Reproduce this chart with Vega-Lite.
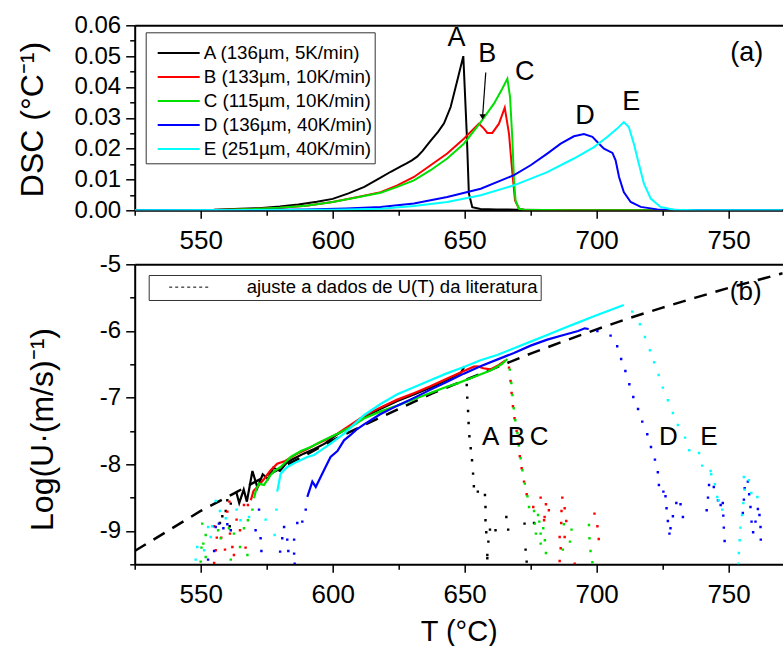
{
"$schema": "https://vega.github.io/schema/vega-lite/v6.json",
"padding": {"left": 15.7, "top": 13.3, "right": 0, "bottom": 0},
"bounds": "flush",
"spacing": 54,
"config": {
  "font": "Liberation Sans",
  "view": {"stroke": null},
  "axis": {"domainColor": "black", "domainWidth": 2, "tickColor": "black", "tickWidth": 1.5, "labelColor": "black", "titleColor": "black", "grid": false, "titleFontWeight": "normal", "labelFont": "Liberation Sans", "titleFont": "Liberation Sans", "labelOverlap": false, "labelFlush": false},
  "text": {"font": "Liberation Sans", "color": "black"}
},
"resolve": {"scale": {"color": "independent"}, "legend": {"color": "independent"}},
"datasets": {
"dsc": [
{"s":"A","T":525,"v":0},{"s":"A","T":545,"v":0.0001},{"s":"A","T":555,"v":0.0002},{"s":"A","T":565,"v":0.0005},{"s":"A","T":572,"v":0.0007},{"s":"A","T":580,"v":0.0012},{"s":"A","T":587,"v":0.0019},{"s":"A","T":594,"v":0.0028},{"s":"A","T":600,"v":0.0037},{"s":"A","T":606,"v":0.0055},{"s":"A","T":612,"v":0.0076},{"s":"A","T":618,"v":0.0105},{"s":"A","T":622,"v":0.0125},{"s":"A","T":626,"v":0.0143},{"s":"A","T":628,"v":0.0152},{"s":"A","T":630,"v":0.0162},{"s":"A","T":632,"v":0.0174},{"s":"A","T":634,"v":0.0192},{"s":"A","T":637,"v":0.0224},{"s":"A","T":640,"v":0.0255},{"s":"A","T":642.2,"v":0.0282},{"s":"A","T":644.7,"v":0.0335},{"s":"A","T":647.2,"v":0.042},{"s":"A","T":649.5,"v":0.05},{"s":"A","T":650.8,"v":0.025},{"s":"A","T":651.6,"v":0.0055},{"s":"A","T":652.9,"v":0.001},{"s":"A","T":656,"v":0.0004},{"s":"A","T":662,"v":0.0003},{"s":"A","T":670,"v":0.0002},{"s":"A","T":680,"v":0.0001},{"s":"A","T":700,"v":0},{"s":"A","T":770.5,"v":0},
{"s":"B","T":525,"v":0},{"s":"B","T":550,"v":0},{"s":"B","T":560,"v":0.0002},{"s":"B","T":570,"v":0.0004},{"s":"B","T":580,"v":0.0008},{"s":"B","T":590,"v":0.0015},{"s":"B","T":600,"v":0.0027},{"s":"B","T":610,"v":0.0044},{"s":"B","T":618.2,"v":0.0059},{"s":"B","T":624.5,"v":0.0081},{"s":"B","T":630.8,"v":0.0108},{"s":"B","T":637.1,"v":0.0146},{"s":"B","T":643.4,"v":0.0184},{"s":"B","T":649.7,"v":0.0232},{"s":"B","T":653.5,"v":0.0265},{"s":"B","T":655.4,"v":0.0281},{"s":"B","T":657.3,"v":0.0265},{"s":"B","T":658.6,"v":0.0251},{"s":"B","T":660.5,"v":0.0251},{"s":"B","T":663,"v":0.0281},{"s":"B","T":665.2,"v":0.0333},{"s":"B","T":666.8,"v":0.0249},{"s":"B","T":668.1,"v":0.0119},{"s":"B","T":669.1,"v":0.0032},{"s":"B","T":670.6,"v":0.0005},{"s":"B","T":672.5,"v":0.0002},{"s":"B","T":680,"v":0.0001},{"s":"B","T":700,"v":0},{"s":"B","T":770.5,"v":0},
{"s":"C","T":525,"v":0},{"s":"C","T":550,"v":0},{"s":"C","T":560,"v":0.0002},{"s":"C","T":570,"v":0.0004},{"s":"C","T":580,"v":0.0008},{"s":"C","T":590,"v":0.0015},{"s":"C","T":600,"v":0.0027},{"s":"C","T":610,"v":0.0043},{"s":"C","T":618.2,"v":0.0057},{"s":"C","T":624.5,"v":0.0076},{"s":"C","T":630.8,"v":0.0097},{"s":"C","T":637.1,"v":0.013},{"s":"C","T":643.4,"v":0.0168},{"s":"C","T":649.7,"v":0.0216},{"s":"C","T":656.1,"v":0.0286},{"s":"C","T":661.1,"v":0.0346},{"s":"C","T":664.3,"v":0.0395},{"s":"C","T":666.2,"v":0.0427},{"s":"C","T":667.2,"v":0.0368},{"s":"C","T":668.1,"v":0.0227},{"s":"C","T":668.7,"v":0.0097},{"s":"C","T":669.3,"v":0.0032},{"s":"C","T":670.6,"v":0.0005},{"s":"C","T":672.5,"v":0.0002},{"s":"C","T":690,"v":0},{"s":"C","T":770.5,"v":0},
{"s":"D","T":525,"v":0},{"s":"D","T":570,"v":0.0001},{"s":"D","T":590,"v":0.0003},{"s":"D","T":605,"v":0.0006},{"s":"D","T":618.2,"v":0.0011},{"s":"D","T":630.8,"v":0.0022},{"s":"D","T":643.4,"v":0.0043},{"s":"D","T":656.1,"v":0.007},{"s":"D","T":668.7,"v":0.0114},{"s":"D","T":675,"v":0.0146},{"s":"D","T":681.3,"v":0.0184},{"s":"D","T":686.4,"v":0.0216},{"s":"D","T":691.4,"v":0.024},{"s":"D","T":695.2,"v":0.0247},{"s":"D","T":698.4,"v":0.0238},{"s":"D","T":700.9,"v":0.0216},{"s":"D","T":702.8,"v":0.02},{"s":"D","T":706,"v":0.0186},{"s":"D","T":707.2,"v":0.0162},{"s":"D","T":708.5,"v":0.0108},{"s":"D","T":710.3,"v":0.0059},{"s":"D","T":712.9,"v":0.0027},{"s":"D","T":716.7,"v":0.0011},{"s":"D","T":723,"v":0.0003},{"s":"D","T":731.8,"v":0.0001},{"s":"D","T":750,"v":0},{"s":"D","T":770.5,"v":0},
{"s":"E","T":525,"v":0},{"s":"E","T":580,"v":0.0001},{"s":"E","T":600,"v":0.0002},{"s":"E","T":618.2,"v":0.0005},{"s":"E","T":630.8,"v":0.0014},{"s":"E","T":643.4,"v":0.0027},{"s":"E","T":656.1,"v":0.0049},{"s":"E","T":668.7,"v":0.0081},{"s":"E","T":681.3,"v":0.0124},{"s":"E","T":691.4,"v":0.0168},{"s":"E","T":699,"v":0.0205},{"s":"E","T":704,"v":0.0238},{"s":"E","T":707.8,"v":0.0265},{"s":"E","T":710.3,"v":0.0286},{"s":"E","T":712.2,"v":0.027},{"s":"E","T":714.1,"v":0.0216},{"s":"E","T":716,"v":0.0151},{"s":"E","T":717.9,"v":0.0087},{"s":"E","T":720.5,"v":0.0038},{"s":"E","T":724.2,"v":0.0011},{"s":"E","T":729.3,"v":0.0002},{"s":"E","T":738.2,"v":0},{"s":"E","T":770.5,"v":0}
],
"labA": [
{"t":"A","T":646.9,"v":0.0558},{"t":"B","T":658.6,"v":0.0506},{"t":"C","T":672.8,"v":0.045},{"t":"D","T":695.6,"v":0.0307},{"t":"E","T":713.1,"v":0.035},{"t":"(a)","T":756.9,"v":0.0509}
],
"arrow": [{"T":658.0,"v":0.0447,"T2":656.8,"v2":0.0303}],
"fit": [
{"T":525,"v":-9.3},{"T":537.5,"v":-9.0},{"T":550,"v":-8.7},{"T":562.5,"v":-8.44},{"T":575,"v":-8.17},{"T":587.5,"v":-7.91},{"T":600,"v":-7.64},{"T":612.5,"v":-7.4},{"T":625,"v":-7.17},{"T":637.5,"v":-6.94},{"T":650,"v":-6.74},{"T":662.5,"v":-6.54},{"T":675,"v":-6.34},{"T":687.5,"v":-6.155},{"T":700,"v":-5.976},{"T":712.5,"v":-5.805},{"T":725,"v":-5.65},{"T":737.5,"v":-5.5},{"T":750,"v":-5.355},{"T":762.5,"v":-5.22},{"T":770.5,"v":-5.135}
],
"logu": [
{"s":"A","T":563.5,"v":-8.42},{"s":"A","T":564.6,"v":-8.58},{"s":"A","T":566.3,"v":-8.38},{"s":"A","T":567.5,"v":-8.56},{"s":"A","T":569.6,"v":-8.1},{"s":"A","T":571.5,"v":-8.35},{"s":"A","T":573.5,"v":-8.15},{"s":"A","T":575.5,"v":-8.22},{"s":"A","T":577.5,"v":-8.05},{"s":"A","T":580,"v":-8.1},{"s":"A","T":582.5,"v":-7.98},{"s":"A","T":585,"v":-7.92},{"s":"A","T":589,"v":-7.84},{"s":"A","T":593,"v":-7.77},{"s":"A","T":597,"v":-7.69},{"s":"A","T":601,"v":-7.57},{"s":"A","T":605,"v":-7.47},{"s":"A","T":612,"v":-7.3},{"s":"A","T":618,"v":-7.17},{"s":"A","T":624.5,"v":-7.05},{"s":"A","T":631,"v":-6.95},{"s":"A","T":637,"v":-6.85},{"s":"A","T":643,"v":-6.74},{"s":"A","T":648.5,"v":-6.63},{"s":"A","T":650,"v":-6.53},
{"s":"B","T":569,"v":-8.54},{"s":"B","T":570,"v":-8.4},{"s":"B","T":571.5,"v":-8.34},{"s":"B","T":574,"v":-8.22},{"s":"B","T":576.5,"v":-8.09},{"s":"B","T":579,"v":-7.99},{"s":"B","T":582,"v":-7.95},{"s":"B","T":586.6,"v":-7.84},{"s":"B","T":590,"v":-7.78},{"s":"B","T":594.2,"v":-7.69},{"s":"B","T":598,"v":-7.62},{"s":"B","T":601.8,"v":-7.54},{"s":"B","T":606.8,"v":-7.41},{"s":"B","T":612,"v":-7.27},{"s":"B","T":618,"v":-7.15},{"s":"B","T":624.5,"v":-7.03},{"s":"B","T":631,"v":-6.93},{"s":"B","T":637,"v":-6.83},{"s":"B","T":643,"v":-6.72},{"s":"B","T":649.7,"v":-6.6},{"s":"B","T":653.5,"v":-6.535},{"s":"B","T":655,"v":-6.53},{"s":"B","T":657,"v":-6.56},{"s":"B","T":659.8,"v":-6.576},{"s":"B","T":663,"v":-6.51},{"s":"B","T":665.5,"v":-6.44},
{"s":"C","T":570.2,"v":-8.51},{"s":"C","T":571,"v":-8.38},{"s":"C","T":572.1,"v":-8.29},{"s":"C","T":574,"v":-8.31},{"s":"C","T":576.5,"v":-8.16},{"s":"C","T":578,"v":-8.1},{"s":"C","T":580.3,"v":-8.04},{"s":"C","T":584.1,"v":-7.89},{"s":"C","T":588,"v":-7.8},{"s":"C","T":591.7,"v":-7.74},{"s":"C","T":595.5,"v":-7.66},{"s":"C","T":599.2,"v":-7.59},{"s":"C","T":603,"v":-7.52},{"s":"C","T":606.8,"v":-7.44},{"s":"C","T":612,"v":-7.31},{"s":"C","T":618,"v":-7.21},{"s":"C","T":624.5,"v":-7.12},{"s":"C","T":631,"v":-7.02},{"s":"C","T":637,"v":-6.93},{"s":"C","T":643,"v":-6.84},{"s":"C","T":647,"v":-6.79},{"s":"C","T":653.5,"v":-6.69},{"s":"C","T":660,"v":-6.59},{"s":"C","T":664,"v":-6.5},{"s":"C","T":666.2,"v":-6.42},
{"s":"D","T":590.4,"v":-8.49},{"s":"D","T":592.3,"v":-8.26},{"s":"D","T":593.6,"v":-8.34},{"s":"D","T":596.7,"v":-8.09},{"s":"D","T":599.2,"v":-7.89},{"s":"D","T":601.8,"v":-7.8},{"s":"D","T":604.3,"v":-7.64},{"s":"D","T":606.8,"v":-7.56},{"s":"D","T":609,"v":-7.48},{"s":"D","T":611.9,"v":-7.4},{"s":"D","T":618,"v":-7.25},{"s":"D","T":624.5,"v":-7.12},{"s":"D","T":631,"v":-7.0},{"s":"D","T":637.1,"v":-6.88},{"s":"D","T":643,"v":-6.77},{"s":"D","T":649.7,"v":-6.64},{"s":"D","T":656,"v":-6.53},{"s":"D","T":662.3,"v":-6.43},{"s":"D","T":668.7,"v":-6.33},{"s":"D","T":675,"v":-6.22},{"s":"D","T":681.3,"v":-6.13},{"s":"D","T":687.5,"v":-6.06},{"s":"D","T":693,"v":-6.0},{"s":"D","T":695.5,"v":-5.96},{"s":"D","T":697,"v":-5.97},
{"s":"E","T":579,"v":-8.41},{"s":"E","T":580.3,"v":-8.14},{"s":"E","T":582.8,"v":-8.04},{"s":"E","T":586.6,"v":-7.96},{"s":"E","T":590.4,"v":-7.89},{"s":"E","T":592.9,"v":-7.86},{"s":"E","T":595.5,"v":-7.79},{"s":"E","T":599.2,"v":-7.69},{"s":"E","T":604.3,"v":-7.54},{"s":"E","T":606.8,"v":-7.45},{"s":"E","T":612,"v":-7.26},{"s":"E","T":618,"v":-7.1},{"s":"E","T":624.5,"v":-6.95},{"s":"E","T":631,"v":-6.84},{"s":"E","T":637,"v":-6.74},{"s":"E","T":643,"v":-6.64},{"s":"E","T":649.7,"v":-6.54},{"s":"E","T":656,"v":-6.44},{"s":"E","T":662.3,"v":-6.36},{"s":"E","T":668.7,"v":-6.26},{"s":"E","T":675,"v":-6.16},{"s":"E","T":681.3,"v":-6.06},{"s":"E","T":687.5,"v":-5.96},{"s":"E","T":693.9,"v":-5.86},{"s":"E","T":699,"v":-5.78},{"s":"E","T":705,"v":-5.69},{"s":"E","T":710.3,"v":-5.61}
],
"dots": [
{"s":"A","T":650.8,"v":-6.81},{"s":"A","T":651.0,"v":-7.0},{"s":"A","T":651.3,"v":-7.2},{"s":"A","T":651.5,"v":-7.38},{"s":"A","T":651.8,"v":-7.58},{"s":"A","T":652.3,"v":-7.76},{"s":"A","T":652.8,"v":-7.94},{"s":"A","T":653.2,"v":-8.14},{"s":"A","T":653.5,"v":-8.33},{"s":"A","T":655.0,"v":-8.41},{"s":"A","T":657.7,"v":-8.46},{"s":"A","T":657.9,"v":-8.64},{"s":"A","T":657.9,"v":-8.84},{"s":"A","T":658.2,"v":-9.02},{"s":"A","T":659.6,"v":-8.98},{"s":"A","T":661.7,"v":-8.99},{"s":"A","T":665.8,"v":-8.79},{"s":"A","T":666.5,"v":-8.98},{"s":"A","T":659.0,"v":-9.16},{"s":"A","T":658.6,"v":-9.36},{"s":"A","T":658.6,"v":-9.41},{"s":"A","T":672.7,"v":-8.89},{"s":"A","T":673.1,"v":-9.28},{"s":"A","T":673.5,"v":-9.46},{"s":"A","T":676.3,"v":-8.88},{"s":"A","T":558.2,"v":-8.78},{"s":"A","T":559.5,"v":-8.7},{"s":"A","T":560.1,"v":-8.54},{"s":"A","T":561.0,"v":-8.93},{"s":"A","T":557.3,"v":-8.88},{"s":"A","T":561.4,"v":-8.59},
{"s":"B","T":666.8,"v":-6.55},{"s":"B","T":667.4,"v":-6.75},{"s":"B","T":667.8,"v":-6.93},{"s":"B","T":668.3,"v":-7.13},{"s":"B","T":668.9,"v":-7.31},{"s":"B","T":669.7,"v":-7.5},{"s":"B","T":670.2,"v":-7.69},{"s":"B","T":670.9,"v":-7.88},{"s":"B","T":671.6,"v":-8.06},{"s":"B","T":672.5,"v":-8.26},{"s":"B","T":673.5,"v":-8.45},{"s":"B","T":678.8,"v":-8.5},{"s":"B","T":680.8,"v":-8.6},{"s":"B","T":676.0,"v":-8.64},{"s":"B","T":680.3,"v":-8.79},{"s":"B","T":681.9,"v":-8.69},{"s":"B","T":680.1,"v":-8.84},{"s":"B","T":687.0,"v":-8.5},{"s":"B","T":687.9,"v":-8.66},{"s":"B","T":686.7,"v":-8.7},{"s":"B","T":688.5,"v":-8.85},{"s":"B","T":686.6,"v":-8.88},{"s":"B","T":686.0,"v":-9.09},{"s":"B","T":687.9,"v":-9.09},{"s":"B","T":686.4,"v":-9.26},{"s":"B","T":686.0,"v":-9.45},{"s":"B","T":699.2,"v":-8.74},{"s":"B","T":700.3,"v":-8.93},{"s":"B","T":700.8,"v":-9.12},{"s":"B","T":691.7,"v":-9.49},{"s":"B","T":555.1,"v":-8.93},{"s":"B","T":556.1,"v":-9.1},{"s":"B","T":557.8,"v":-9.1},{"s":"B","T":561.1,"v":-9.04},{"s":"B","T":560.1,"v":-8.71},{"s":"B","T":555.7,"v":-9.29},{"s":"B","T":559.2,"v":-9.28},{"s":"B","T":562.0,"v":-9.24},{"s":"B","T":562.6,"v":-9.36},{"s":"B","T":564.9,"v":-8.99},{"s":"B","T":563.6,"v":-8.83},{"s":"B","T":566.4,"v":-8.61},{"s":"B","T":560.9,"v":-8.56},{"s":"B","T":567.0,"v":-9.25},{"s":"B","T":567.9,"v":-8.61},{"s":"B","T":555.1,"v":-9.48},
{"s":"C","T":667.1,"v":-6.58},{"s":"C","T":667.7,"v":-6.78},{"s":"C","T":668.1,"v":-6.96},{"s":"C","T":668.6,"v":-7.16},{"s":"C","T":669.2,"v":-7.34},{"s":"C","T":670.0,"v":-7.53},{"s":"C","T":670.5,"v":-7.72},{"s":"C","T":671.2,"v":-7.91},{"s":"C","T":671.9,"v":-8.09},{"s":"C","T":672.8,"v":-8.29},{"s":"C","T":673.8,"v":-8.48},{"s":"C","T":674.4,"v":-8.64},{"s":"C","T":676.3,"v":-8.7},{"s":"C","T":677.8,"v":-8.76},{"s":"C","T":676.6,"v":-8.89},{"s":"C","T":678.3,"v":-8.86},{"s":"C","T":679.8,"v":-8.96},{"s":"C","T":677.0,"v":-9.04},{"s":"C","T":678.8,"v":-9.04},{"s":"C","T":680.4,"v":-9.14},{"s":"C","T":678.8,"v":-9.19},{"s":"C","T":680.8,"v":-9.33},{"s":"C","T":687.6,"v":-8.9},{"s":"C","T":690.5,"v":-8.98},{"s":"C","T":689.9,"v":-9.16},{"s":"C","T":687.2,"v":-9.28},{"s":"C","T":697.1,"v":-8.91},{"s":"C","T":697.3,"v":-9.11},{"s":"C","T":697.7,"v":-9.3},{"s":"C","T":698.4,"v":-9.47},{"s":"C","T":550.6,"v":-8.89},{"s":"C","T":551.9,"v":-9.06},{"s":"C","T":551.0,"v":-9.19},{"s":"C","T":550.3,"v":-9.25},{"s":"C","T":551.9,"v":-9.39},{"s":"C","T":550.0,"v":-9.46},{"s":"C","T":556.6,"v":-8.99},{"s":"C","T":560.7,"v":-8.96},{"s":"C","T":562.6,"v":-9.04},{"s":"C","T":566.4,"v":-8.96},{"s":"C","T":567.9,"v":-8.84},{"s":"C","T":564.9,"v":-9.24},{"s":"C","T":567.7,"v":-9.36},{"s":"C","T":569.6,"v":-8.68},{"s":"C","T":561.4,"v":-9.43},{"s":"C","T":557.6,"v":-9.11},
{"s":"D","T":700.3,"v":-6.0},{"s":"D","T":705.3,"v":-6.07},{"s":"D","T":707.8,"v":-6.23},{"s":"D","T":709.3,"v":-6.42},{"s":"D","T":710.9,"v":-6.6},{"s":"D","T":712.4,"v":-6.8},{"s":"D","T":713.9,"v":-6.99},{"s":"D","T":715.7,"v":-7.17},{"s":"D","T":717.3,"v":-7.36},{"s":"D","T":719.2,"v":-7.55},{"s":"D","T":720.6,"v":-7.74},{"s":"D","T":722.1,"v":-7.93},{"s":"D","T":723.2,"v":-8.12},{"s":"D","T":723.6,"v":-8.31},{"s":"D","T":725.3,"v":-8.41},{"s":"D","T":726.1,"v":-8.48},{"s":"D","T":726.5,"v":-8.66},{"s":"D","T":727.0,"v":-8.85},{"s":"D","T":728.0,"v":-8.96},{"s":"D","T":727.6,"v":-9.04},{"s":"D","T":728.9,"v":-8.78},{"s":"D","T":730.2,"v":-8.58},{"s":"D","T":731.8,"v":-8.6},{"s":"D","T":732.7,"v":-8.79},{"s":"D","T":742.6,"v":-8.31},{"s":"D","T":744.4,"v":-8.34},{"s":"D","T":742.2,"v":-8.5},{"s":"D","T":741.7,"v":-8.69},{"s":"D","T":746.0,"v":-8.54},{"s":"D","T":747.0,"v":-8.61},{"s":"D","T":747.8,"v":-8.58},{"s":"D","T":748.0,"v":-8.77},{"s":"D","T":748.2,"v":-8.95},{"s":"D","T":748.5,"v":-9.15},{"s":"D","T":757.3,"v":-8.26},{"s":"D","T":756.1,"v":-8.36},{"s":"D","T":755.8,"v":-8.53},{"s":"D","T":755.4,"v":-8.73},{"s":"D","T":758.3,"v":-8.64},{"s":"D","T":758.7,"v":-8.86},{"s":"D","T":760.2,"v":-8.86},{"s":"D","T":759.3,"v":-9.02},{"s":"D","T":761.1,"v":-8.67},{"s":"D","T":761.7,"v":-8.76},{"s":"D","T":762.1,"v":-8.94},{"s":"D","T":762.2,"v":-9.13},{"s":"D","T":757.8,"v":-8.45},{"s":"D","T":555.7,"v":-8.94},{"s":"D","T":556.9,"v":-8.89},{"s":"D","T":558.6,"v":-8.96},{"s":"D","T":555.1,"v":-9.3},{"s":"D","T":552.8,"v":-9.43},{"s":"D","T":560.1,"v":-8.9},{"s":"D","T":561.4,"v":-8.99},{"s":"D","T":572.1,"v":-8.68},{"s":"D","T":570.8,"v":-8.99},{"s":"D","T":572.7,"v":-9.11},{"s":"D","T":573.0,"v":-9.3},{"s":"D","T":581.6,"v":-8.94},{"s":"D","T":580.9,"v":-9.11},{"s":"D","T":582.8,"v":-9.13},{"s":"D","T":585.4,"v":-9.13},{"s":"D","T":586.6,"v":-8.88},{"s":"D","T":588.5,"v":-8.86},{"s":"D","T":589.8,"v":-8.68},{"s":"D","T":580.1,"v":-9.31},{"s":"D","T":583.2,"v":-9.3},{"s":"D","T":585.4,"v":-9.34},{"s":"D","T":585.6,"v":-9.49},
{"s":"E","T":713.5,"v":-5.71},{"s":"E","T":716.4,"v":-5.9},{"s":"E","T":718.3,"v":-6.09},{"s":"E","T":720.2,"v":-6.29},{"s":"E","T":721.8,"v":-6.47},{"s":"E","T":723.5,"v":-6.66},{"s":"E","T":725.1,"v":-6.85},{"s":"E","T":727.0,"v":-7.04},{"s":"E","T":728.9,"v":-7.23},{"s":"E","T":730.8,"v":-7.41},{"s":"E","T":733.5,"v":-7.6},{"s":"E","T":735.1,"v":-7.79},{"s":"E","T":738.8,"v":-7.83},{"s":"E","T":740.0,"v":-8.02},{"s":"E","T":743.2,"v":-8.1},{"s":"E","T":743.4,"v":-8.15},{"s":"E","T":744.8,"v":-8.3},{"s":"E","T":745.7,"v":-8.49},{"s":"E","T":746.2,"v":-8.54},{"s":"E","T":747.6,"v":-8.68},{"s":"E","T":755.8,"v":-8.19},{"s":"E","T":757.7,"v":-8.24},{"s":"E","T":756.1,"v":-8.38},{"s":"E","T":758.6,"v":-8.43},{"s":"E","T":760.9,"v":-8.49},{"s":"E","T":755.6,"v":-8.58},{"s":"E","T":755.1,"v":-8.76},{"s":"E","T":754.5,"v":-8.95},{"s":"E","T":754.2,"v":-9.14},{"s":"E","T":753.9,"v":-9.33},{"s":"E","T":753.7,"v":-9.49},{"s":"E","T":555.7,"v":-8.55},{"s":"E","T":557.3,"v":-8.7},{"s":"E","T":552.8,"v":-8.94},{"s":"E","T":554.4,"v":-8.93},{"s":"E","T":548.7,"v":-9.24},{"s":"E","T":548.1,"v":-9.43},{"s":"E","T":559.5,"v":-8.81},{"s":"E","T":563.6,"v":-8.68},{"s":"E","T":565.1,"v":-8.84},{"s":"E","T":568.3,"v":-8.79},{"s":"E","T":574.6,"v":-8.83},{"s":"E","T":578.7,"v":-8.68},{"s":"E","T":578.0,"v":-9.06},{"s":"E","T":553.8,"v":-9.09},{"s":"E","T":551.3,"v":-9.29}
],
"labB": [
{"t":"A","T":659.9,"v":-7.586},{"t":"B","T":669.6,"v":-7.586},{"t":"C","T":678.2,"v":-7.586},{"t":"D","T":727.2,"v":-7.586},{"t":"E","T":742.6,"v":-7.586},{"t":"(b)","T":756.5,"v":-5.41}
]
},
"vconcat": [
{
  "width": 648, "height": 185,
  "resolve": {"axis": {"x": "independent"}},
  "layer": [
    {
      "data": {"name": "dsc"},
      "mark": {"type": "line", "strokeWidth": 2, "clip": true},
      "encoding": {
        "x": {"field": "T", "type": "quantitative", "scale": {"domain": [525, 770.5], "nice": false, "zero": false},
              "axis": {"orient": "bottom", "title": null, "values": [525,550,575,600,625,650,675,700,725,750], "labelExpr": "datum.value % 50 == 0 ? datum.label : ''", "tickSize": {"condition": {"test": "datum.value % 50 != 0", "value": 5}, "value": 8}, "labelFontSize": 26, "labelPadding": 9, "labelFlush": false, "labelOverlap": false}},
        "y": {"field": "v", "type": "quantitative", "scale": {"domain": [0, 0.06], "nice": false, "zero": false},
              "axis": {"title": "DSC (°C⁻¹)", "titleFontSize": 32, "titleX": -102.3, "titleY": 93.7, "titleBaseline": "middle", "values": [0,0.005,0.01,0.015,0.02,0.025,0.03,0.035,0.04,0.045,0.05,0.055,0.06], "labelExpr": "round(datum.value*1000) % 10 == 0 ? format(datum.value, '.2f') : ''", "tickSize": {"condition": {"test": "round(datum.value*1000) % 10 != 0", "value": 5}, "value": 9}, "labelFontSize": 24, "labelPadding": 5, "labelOverlap": false, "labelFlush": false}},
        "color": {"field": "s", "type": "nominal", "scale": {"domain": ["A","B","C","D","E"], "range": ["#000000","#ff0000","#00e000","#0000ff","#00ffff"]},
                  "legend": {"orient": "none", "legendX": 11, "legendY": 7, "title": " ", "titleFontSize": 7, "titlePadding": 0, "padding": 2, "strokeColor": "#333333", "fillColor": "white", "symbolType": "stroke", "symbolSize": 1764, "symbolStrokeWidth": 2, "symbolOffset": 9, "labelOffset": 3, "labelFontSize": 18.8, "labelFont": "Liberation Sans", "labelColor": "black", "labelLimit": 400, "clipHeight": 23.4, "rowPadding": 0,
                             "labelExpr": "{'A':'A (136µm, 5K/min)','B':'B (133µm, 10K/min)','C':'C (115µm, 10K/min)','D':'D (136µm, 40K/min)','E':'E (251µm, 40K/min)'}[datum.label]"}}
      }
    },
    {
      "data": {"name": "labA"},
      "mark": {"type": "text", "fontSize": 27, "align": "center", "baseline": "middle"},
      "encoding": {
        "x": {"field": "T", "type": "quantitative", "axis": {"orient": "top", "labels": false, "ticks": false, "domain": true, "title": null}},
        "y": {"field": "v", "type": "quantitative",
              "axis": {"title": "DSC (°C⁻¹)", "titleFontSize": 32, "titleX": -102.3, "titleY": 93.7, "titleBaseline": "middle", "values": [0,0.005,0.01,0.015,0.02,0.025,0.03,0.035,0.04,0.045,0.05,0.055,0.06], "labelExpr": "round(datum.value*1000) % 10 == 0 ? format(datum.value, '.2f') : ''", "tickSize": {"condition": {"test": "round(datum.value*1000) % 10 != 0", "value": 5}, "value": 9}, "labelFontSize": 24, "labelPadding": 5, "labelOverlap": false, "labelFlush": false}},
        "text": {"field": "t"}
      }
    },
    {
      "data": {"name": "arrow"},
      "mark": {"type": "rule", "strokeWidth": 1.2, "color": "black"},
      "encoding": {
        "x": {"field": "T", "type": "quantitative", "axis": null},
        "x2": {"field": "T2"},
        "y": {"field": "v", "type": "quantitative",
              "axis": {"title": "DSC (°C⁻¹)", "titleFontSize": 32, "titleX": -102.3, "titleY": 93.7, "titleBaseline": "middle", "values": [0,0.005,0.01,0.015,0.02,0.025,0.03,0.035,0.04,0.045,0.05,0.055,0.06], "labelExpr": "round(datum.value*1000) % 10 == 0 ? format(datum.value, '.2f') : ''", "tickSize": {"condition": {"test": "round(datum.value*1000) % 10 != 0", "value": 5}, "value": 9}, "labelFontSize": 24, "labelPadding": 5, "labelOverlap": false, "labelFlush": false}},
        "y2": {"field": "v2"}
      }
    },
    {
      "data": {"name": "arrow"},
      "mark": {"type": "point", "shape": "triangle-down", "filled": true, "color": "black", "size": 40, "opacity": 1},
      "encoding": {
        "x": {"field": "T2", "type": "quantitative", "axis": null},
        "y": {"field": "v2", "type": "quantitative",
              "axis": {"title": "DSC (°C⁻¹)", "titleFontSize": 32, "titleX": -102.3, "titleY": 93.7, "titleBaseline": "middle", "values": [0,0.005,0.01,0.015,0.02,0.025,0.03,0.035,0.04,0.045,0.05,0.055,0.06], "labelExpr": "round(datum.value*1000) % 10 == 0 ? format(datum.value, '.2f') : ''", "tickSize": {"condition": {"test": "round(datum.value*1000) % 10 != 0", "value": 5}, "value": 9}, "labelFontSize": 24, "labelPadding": 5, "labelOverlap": false, "labelFlush": false}}
      }
    }
  ]
},
{
  "width": 648, "height": 300,
  "resolve": {"axis": {"x": "independent"}},
  "layer": [
    {
      "data": {"name": "fit"},
      "mark": {"type": "line", "strokeWidth": 2.5, "strokeDash": [13, 9], "clip": true},
      "encoding": {
        "x": {"field": "T", "type": "quantitative", "scale": {"domain": [525, 770.5], "nice": false, "zero": false},
              "axis": {"orient": "bottom", "title": "T (°C)", "titleFontSize": 29, "titlePadding": 10, "values": [525,550,575,600,625,650,675,700,725,750], "labelExpr": "datum.value % 50 == 0 ? datum.label : ''", "tickSize": {"condition": {"test": "datum.value % 50 != 0", "value": 5}, "value": 8}, "labelFontSize": 26, "labelPadding": 9, "labelFlush": false, "labelOverlap": false}},
        "y": {"field": "v", "type": "quantitative", "scale": {"domain": [-9.5, -5], "nice": false, "zero": false},
              "axis": {"title": "Log(U·(m/s)⁻¹)", "titleFontSize": 32, "titleX": -92.3, "titleY": 164.7, "titleBaseline": "middle", "values": [-9.5,-9,-8.5,-8,-7.5,-7,-6.5,-6,-5.5,-5], "labelExpr": "datum.value == round(datum.value) ? '-' + format(abs(datum.value), 'd') : ''", "tickSize": {"condition": {"test": "datum.value != round(datum.value)", "value": 5}, "value": 9}, "labelFontSize": 24, "labelPadding": 5, "labelOverlap": false, "labelFlush": false}},
        "stroke": {"datum": "ajuste a dados de U(T) da literatura", "type": "nominal", "scale": {"range": ["black"]},
                   "legend": {"orient": "none", "legendX": 14, "legendY": 249.7, "title": null, "padding": 2, "strokeColor": "#333333", "fillColor": "white", "symbolType": "stroke", "symbolSize": 1600, "symbolStrokeWidth": 1, "symbolDash": [3, 3], "symbolStrokeColor": "black", "symbolOffset": 18, "labelOffset": 37, "labelFontSize": 18.5, "labelFont": "Liberation Sans", "labelColor": "black", "labelLimit": 500, "clipHeight": 20.3}}
      }
    },
    {
      "data": {"name": "logu"},
      "mark": {"type": "line", "strokeWidth": 2.2, "clip": true},
      "encoding": {
        "x": {"field": "T", "type": "quantitative", "axis": null},
        "y": {"field": "v", "type": "quantitative",
              "axis": {"title": "Log(U·(m/s)⁻¹)", "titleFontSize": 32, "titleX": -92.3, "titleY": 164.7, "titleBaseline": "middle", "values": [-9.5,-9,-8.5,-8,-7.5,-7,-6.5,-6,-5.5,-5], "labelExpr": "datum.value == round(datum.value) ? '-' + format(abs(datum.value), 'd') : ''", "tickSize": {"condition": {"test": "datum.value != round(datum.value)", "value": 5}, "value": 9}, "labelFontSize": 24, "labelPadding": 5, "labelOverlap": false, "labelFlush": false}},
        "color": {"field": "s", "type": "nominal", "scale": {"domain": ["A","B","C","D","E"], "range": ["#000000","#ff0000","#00e000","#0000ff","#00ffff"]}, "legend": null}
      }
    },
    {
      "data": {"name": "dots"},
      "mark": {"type": "point", "shape": "square", "filled": true, "size": 6, "opacity": 1, "clip": true},
      "encoding": {
        "x": {"field": "T", "type": "quantitative", "axis": null},
        "y": {"field": "v", "type": "quantitative",
              "axis": {"title": "Log(U·(m/s)⁻¹)", "titleFontSize": 32, "titleX": -92.3, "titleY": 164.7, "titleBaseline": "middle", "values": [-9.5,-9,-8.5,-8,-7.5,-7,-6.5,-6,-5.5,-5], "labelExpr": "datum.value == round(datum.value) ? '-' + format(abs(datum.value), 'd') : ''", "tickSize": {"condition": {"test": "datum.value != round(datum.value)", "value": 5}, "value": 9}, "labelFontSize": 24, "labelPadding": 5, "labelOverlap": false, "labelFlush": false}},
        "color": {"field": "s", "type": "nominal", "scale": {"domain": ["A","B","C","D","E"], "range": ["#000000","#ff0000","#00e000","#0000ff","#00ffff"]}, "legend": null}
      }
    },
    {
      "data": {"name": "labB"},
      "mark": {"type": "text", "fontSize": 26, "align": "center", "baseline": "middle"},
      "encoding": {
        "x": {"field": "T", "type": "quantitative", "axis": {"orient": "top", "labels": false, "ticks": false, "domain": true, "title": null}},
        "y": {"field": "v", "type": "quantitative",
              "axis": {"title": "Log(U·(m/s)⁻¹)", "titleFontSize": 32, "titleX": -92.3, "titleY": 164.7, "titleBaseline": "middle", "values": [-9.5,-9,-8.5,-8,-7.5,-7,-6.5,-6,-5.5,-5], "labelExpr": "datum.value == round(datum.value) ? '-' + format(abs(datum.value), 'd') : ''", "tickSize": {"condition": {"test": "datum.value != round(datum.value)", "value": 5}, "value": 9}, "labelFontSize": 24, "labelPadding": 5, "labelOverlap": false, "labelFlush": false}},
        "text": {"field": "t"}
      }
    }
  ]
}
]
}
